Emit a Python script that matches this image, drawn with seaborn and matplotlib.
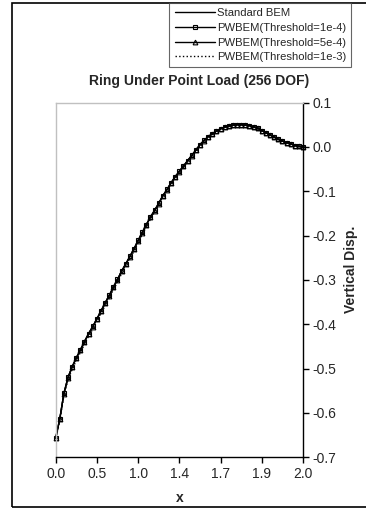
import numpy as np
import pandas as pd
import seaborn as sns
import matplotlib.pyplot as plt
from matplotlib.patches import Rectangle

# vertical displacement at each node along the ring (category axis)
standard_bem = [-0.657, -0.614, -0.556, -0.520, -0.496, -0.476, -0.458, -0.439, -0.421, -0.405,
                -0.388, -0.370, -0.352, -0.335, -0.316, -0.299, -0.280, -0.264, -0.247, -0.230,
                -0.211, -0.193, -0.175, -0.158, -0.143, -0.127, -0.110, -0.096, -0.081, -0.067,
                -0.055, -0.043, -0.031, -0.019, -0.007, 0.005, 0.015, 0.023, 0.030, 0.036,
                0.041, 0.045, 0.047, 0.049, 0.050, 0.050, 0.049, 0.048, 0.045, 0.042,
                0.037, 0.032, 0.027, 0.022, 0.017, 0.013, 0.010, 0.007, 0.003, 0.001, 0.000]
pwbem_1e4 = [-0.657, -0.614, -0.556, -0.520, -0.496, -0.476, -0.458, -0.439, -0.421, -0.405,
             -0.388, -0.370, -0.352, -0.335, -0.316, -0.299, -0.280, -0.264, -0.247, -0.230,
             -0.211, -0.193, -0.175, -0.158, -0.143, -0.127, -0.110, -0.096, -0.081, -0.067,
             -0.055, -0.043, -0.031, -0.019, -0.007, 0.005, 0.015, 0.023, 0.030, 0.036,
             0.041, 0.045, 0.047, 0.049, 0.050, 0.050, 0.049, 0.048, 0.045, 0.042,
             0.037, 0.032, 0.027, 0.022, 0.017, 0.013, 0.010, 0.007, 0.003, 0.001, 0.000]
pwbem_5e4 = [-0.657, -0.614, -0.557, -0.521, -0.497, -0.477, -0.459, -0.440, -0.422, -0.406,
             -0.389, -0.371, -0.353, -0.336, -0.317, -0.300, -0.281, -0.265, -0.248, -0.231,
             -0.212, -0.194, -0.176, -0.159, -0.144, -0.128, -0.111, -0.097, -0.082, -0.068,
             -0.056, -0.044, -0.032, -0.020, -0.008, 0.004, 0.014, 0.023, 0.030, 0.036,
             0.041, 0.045, 0.047, 0.049, 0.050, 0.050, 0.049, 0.048, 0.045, 0.042,
             0.037, 0.032, 0.027, 0.022, 0.017, 0.013, 0.010, 0.007, 0.003, 0.001, 0.000]
pwbem_1e3 = [-0.659, -0.618, -0.561, -0.526, -0.502, -0.482, -0.464, -0.445, -0.427, -0.411,
             -0.394, -0.376, -0.358, -0.341, -0.322, -0.305, -0.286, -0.270, -0.253, -0.235,
             -0.216, -0.198, -0.180, -0.163, -0.147, -0.131, -0.114, -0.100, -0.085, -0.071,
             -0.058, -0.046, -0.034, -0.022, -0.010, 0.002, 0.013, 0.021, 0.028, 0.035,
             0.040, 0.044, 0.046, 0.048, 0.049, 0.049, 0.049, 0.047, 0.045, 0.041,
             0.037, 0.032, 0.027, 0.022, 0.017, 0.013, 0.010, 0.006, 0.003, 0.001, 0.000]
node = np.arange(len(standard_bem))
x_ticklabels = ["0.0", "0.5", "1.0", "1.4", "1.7", "1.9", "2.0"]
y_ticks = [-0.7, -0.6, -0.5, -0.4, -0.3, -0.2, -0.1, 0.0, 0.1]

sns.set_style("white")
plt.rcParams['font.family'] = ['Liberation Sans', 'DejaVu Sans']
plt.rcParams['axes.unicode_minus'] = False

fig = plt.figure(figsize=(3.66, 5.08), dpi=100)
ax = fig.add_axes([0.152, 0.100, 0.676, 0.698])

marker_kw = dict(markersize=3.4, markerfacecolor="none", markeredgecolor="black",
                 markeredgewidth=0.8, clip_on=False)
sns.lineplot(x=node, y=standard_bem, ax=ax, color="black", linewidth=1.0,
             label="Standard BEM")
sns.lineplot(x=node, y=pwbem_1e4, ax=ax, color="black", linewidth=1.0, marker="s",
             label="PWBEM(Threshold=1e-4)", **marker_kw)
sns.lineplot(x=node, y=pwbem_5e4, ax=ax, color="black", linewidth=1.0, marker="^",
             label="PWBEM(Threshold=5e-4)", **marker_kw)
sns.lineplot(x=node, y=pwbem_1e3, ax=ax, color="black", linewidth=1.0, linestyle=":",
             label="PWBEM(Threshold=1e-3)")

ax.set_xlim(0, len(node) - 1)
ax.set_ylim(-0.7, 0.1)
ax.set_xticks(np.linspace(0, len(node) - 1, len(x_ticklabels)))
ax.set_xticklabels(x_ticklabels)
ax.set_yticks(y_ticks)
ax.set_yticklabels([f"{v:.1f}" for v in y_ticks])
ax.yaxis.tick_right()
ax.yaxis.set_label_position("right")
ax.tick_params(axis="both", direction="out", length=4, width=1, color="black",
               labelsize=10, pad=3)
ax.tick_params(axis="y", left=False, right=True)
ax.tick_params(axis="x", bottom=True)

for side in ["left", "top"]:
    ax.spines[side].set_color("#c0c0c0")
    ax.spines[side].set_linewidth(1.0)
for side in ["right", "bottom"]:
    ax.spines[side].set_color("black")
    ax.spines[side].set_linewidth(1.0)

ax.set_xlabel("x", fontsize=10, fontweight="bold")
ax.xaxis.set_label_coords(0.5, -0.095)
ax.set_ylabel("Vertical Disp.", fontsize=10, fontweight="bold")
ax.yaxis.set_label_coords(1.165, 0.53)

fig.text(199 / 366, 1 - 81 / 508, "Ring Under Point Load (256 DOF)",
         ha="center", va="center", fontsize=10, fontweight="bold")

handles, labels = ax.get_legend_handles_labels()
ax.get_legend().remove()
leg = fig.legend(handles, labels, loc="upper right",
                 bbox_to_anchor=(351 / 366, 1 - 3 / 508), fontsize=8.1,
                 frameon=True, fancybox=False, edgecolor="#404040",
                 handlelength=3.6, handletextpad=0.15, labelspacing=0.42,
                 borderpad=0.45, borderaxespad=0)
leg.get_frame().set_linewidth(0.8)

# outer chart border
fig.patches.append(Rectangle((12 / 366, 1 / 508), 1.2, 1 - 4 / 508,
                             transform=fig.transFigure, fill=False,
                             edgecolor="black", linewidth=1.2))

plt.savefig("out.png", dpi=100)
